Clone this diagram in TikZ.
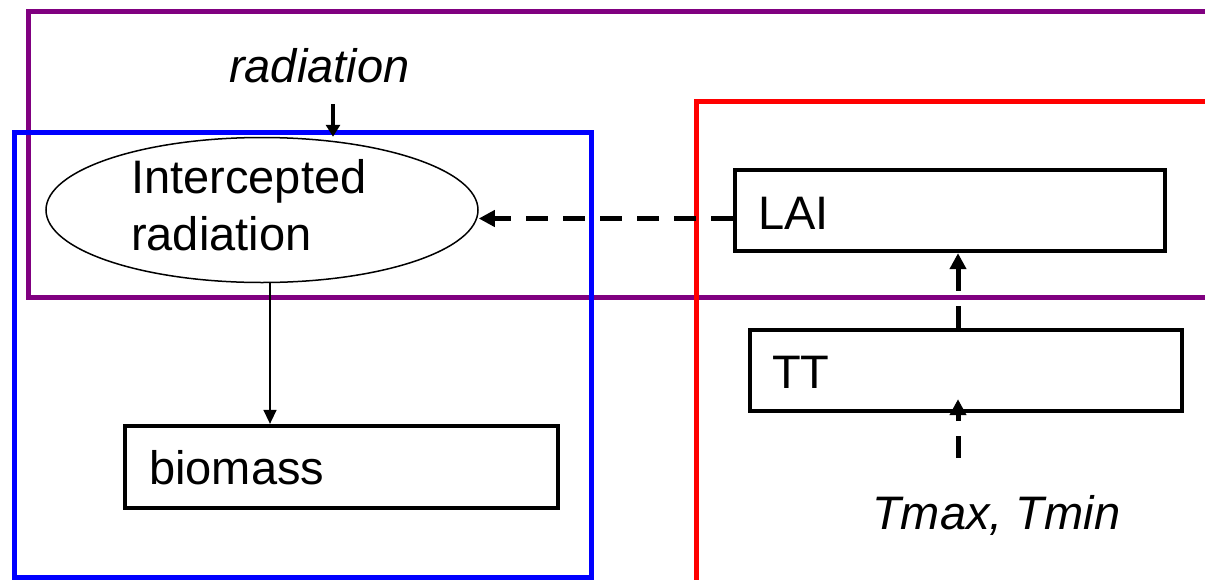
\documentclass[tikz,border=0pt]{standalone}
\usepackage{fontspec}
\setmainfont{Liberation Sans}
\usetikzlibrary{shapes.geometric,arrows.meta}
\begin{document}
\begin{tikzpicture}[x=1pt,y=-1pt,
  txt/.style={anchor=base west,inner sep=0pt,font=\fontsize{47}{57}\selectfont},
  itxt/.style={txt,font=\fontsize{47}{57}\selectfont\itshape},
  frame/.style={line width=5pt},
  varbox/.style={draw,line width=4.3pt,rectangle,inner sep=0pt},
  dasharrow/.style={line width=5pt,dash pattern=on 22pt off 15pt,-{Triangle[length=16pt,width=16pt]}},
  thinarrow/.style={line width=1.5pt,-{Triangle[length=14pt,width=13pt]}},
  radarrow/.style={line width=4pt,-{Triangle[length=12pt,width=14pt]}}]
\useasboundingbox (0,0) rectangle (1205,579);
\fill[white] (0,0) rectangle (1205,579);
\clip (0,0) rectangle (1205,579);
% group frames
\draw[frame,draw={rgb,255:red,128;green,0;blue,128}] (28,11) rectangle (1225,297);
\draw[frame,blue] (14,132) rectangle (591,577);
\draw[frame,red] (696,101) rectangle (1225,582);
% nodes
\node[draw,ellipse,line width=1.5pt,minimum width=432pt,minimum height=145pt,inner sep=0pt] (ir) at (262,210) {};
\node[txt] (ir1) at (131,193) {Intercepted};
\node[txt] (ir2) at (131,250) {radiation};
\node[itxt] (rad) at (229,82) {radiation};
\node[varbox,minimum width=430pt,minimum height=81pt] (lai) at (950,210.5) {};
\node[txt] (lait) at (758,229) {LAI};
\node[varbox,minimum width=432pt,minimum height=81pt] (tt) at (966,370.5) {};
\node[txt] (ttt) at (772,388) {TT};
\node[varbox,minimum width=433pt,minimum height=82pt] (bio) at (341.5,467) {};
\node[txt] (biot) at (149,484) {biomass};
\node[itxt] (tm) at (872,529) {Tmax, Tmin};
% connectors
\coordinate (rs) at (333,104);
\draw[radarrow] (rs) -- (rs |- ir.north);
\draw[thinarrow] ([xshift=8pt]ir.south) -- ([xshift=8pt]ir.south |- bio.north);
\draw[dasharrow] ([yshift=-8pt]lai.west) -- ([yshift=-8pt]lai.west -| ir.east);
\draw[dasharrow] ([xshift=-8pt]tt.north) -- ([xshift=-8pt]tt.north |- lai.south);
\coordinate (tin) at (958,458);
\draw[dasharrow,shorten >=-14pt] (tin) -- (tin |- tt.south);
\end{tikzpicture}
\end{document}
